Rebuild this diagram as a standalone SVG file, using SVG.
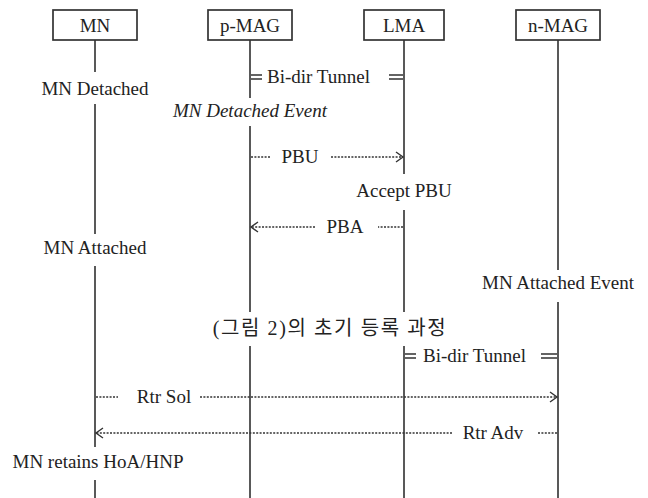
<svg xmlns="http://www.w3.org/2000/svg" width="648" height="498" viewBox="0 0 648 498">
<style>
.t{font-family:"Liberation Serif","DejaVu Serif",serif;font-size:19px;fill:#222;text-anchor:middle}
.ts{font-family:"Liberation Serif","DejaVu Serif",serif;font-size:19px;fill:#222;text-anchor:start}
.it{font-style:italic}
.kr{font-family:"Liberation Serif","Noto Sans CJK KR",serif;font-size:20px;fill:#222;text-anchor:middle;letter-spacing:1.6px}
.box{fill:#fff;stroke:#333;stroke-width:1.7}
.life{stroke:#222;stroke-width:1.5}
.bg{fill:#fff}
.dot{stroke:#333;stroke-width:1.3;stroke-dasharray:2 1.4;fill:none}
.tun{stroke:#222;stroke-width:1.4}
</style>
<defs>
<marker id="ah" markerWidth="10" markerHeight="14" refX="8" refY="6" orient="auto" markerUnits="userSpaceOnUse">
<path d="M1,1 L8,6 L1,11" fill="none" stroke="#333" stroke-width="1.4" stroke-dasharray="none"/>
</marker>
</defs>
<rect width="648" height="498" fill="#fff"/>

<g id="lifelines">
<line class="life" x1="95" y1="40" x2="95" y2="498"/>
<line class="life" x1="250" y1="40" x2="250" y2="498"/>
<line class="life" x1="404" y1="40" x2="404" y2="498"/>
<line class="life" x1="558" y1="40" x2="558" y2="498"/>
</g>

<g id="node-MN">
<rect class="box" x="53" y="10" width="84" height="30"/>
<text class="t" x="95" y="32">MN</text>
</g>
<g id="node-pMAG">
<rect class="box" x="208" y="10" width="84" height="30"/>
<text class="t" x="250" y="32">p-MAG</text>
</g>
<g id="node-LMA">
<rect class="box" x="364" y="10" width="80" height="30"/>
<text class="t" x="404" y="32">LMA</text>
</g>
<g id="node-nMAG">
<rect class="box" x="516" y="10" width="84" height="30"/>
<text class="t" x="558" y="32">n-MAG</text>
</g>

<g id="labels">
<rect class="bg" x="38" y="72" width="116" height="32"/>
<text class="t" x="95" y="95">MN Detached</text>
<rect class="bg" x="168" y="98" width="164" height="28"/>
<text class="t it" x="250" y="117">MN Detached Event</text>
<rect class="bg" x="352" y="174" width="108" height="36"/>
<text class="t" x="404" y="197">Accept PBU</text>
<rect class="bg" x="32" y="234" width="126" height="32"/>
<text class="t" x="95" y="254">MN Attached</text>
<rect class="bg" x="474" y="270" width="168" height="32"/>
<text class="t" x="558" y="289">MN Attached Event</text>
<rect class="bg" x="208" y="312" width="246" height="34"/>
<text class="kr" x="330" y="335">(그림 2)의 초기 등록 과정</text>
<rect class="bg" x="6" y="447" width="186" height="33"/>
<text class="t" x="98" y="468">MN retains HoA/HNP</text>
</g>

<g id="connectors">
<g id="tunnel1">
<line class="tun" x1="251" y1="75" x2="262" y2="75"/>
<line class="tun" x1="251" y1="79" x2="262" y2="79"/>
<text class="ts" x="267" y="83">Bi-dir Tunnel</text>
<line class="tun" x1="389" y1="75" x2="403" y2="75"/>
<line class="tun" x1="389" y1="79" x2="403" y2="79"/>
</g>
<g id="msg-PBU">
<line class="dot" x1="251" y1="157" x2="271" y2="157"/>
<text class="t" x="300" y="163">PBU</text>
<line class="dot" x1="331" y1="157" x2="403" y2="157" marker-end="url(#ah)"/>
</g>
<g id="msg-PBA">
<line class="dot" x1="403" y1="227" x2="378" y2="227"/>
<text class="t" x="345" y="233">PBA</text>
<line class="dot" x1="315" y1="227" x2="251" y2="227" marker-end="url(#ah)"/>
</g>
<g id="tunnel2">
<line class="tun" x1="405" y1="354" x2="416" y2="354"/>
<line class="tun" x1="405" y1="358" x2="416" y2="358"/>
<text class="ts" x="423" y="362">Bi-dir Tunnel</text>
<line class="tun" x1="541" y1="354" x2="557" y2="354"/>
<line class="tun" x1="541" y1="358" x2="557" y2="358"/>
</g>
<g id="msg-RtrSol">
<line class="dot" x1="96" y1="397" x2="118" y2="397"/>
<text class="t" x="164" y="403">Rtr Sol</text>
<line class="dot" x1="200" y1="397" x2="557" y2="397" marker-end="url(#ah)"/>
</g>
<g id="msg-RtrAdv">
<line class="dot" x1="557" y1="433" x2="537" y2="433"/>
<text class="t" x="493" y="439">Rtr Adv</text>
<line class="dot" x1="452" y1="433" x2="96" y2="433" marker-end="url(#ah)"/>
</g>
</g>
</svg>
